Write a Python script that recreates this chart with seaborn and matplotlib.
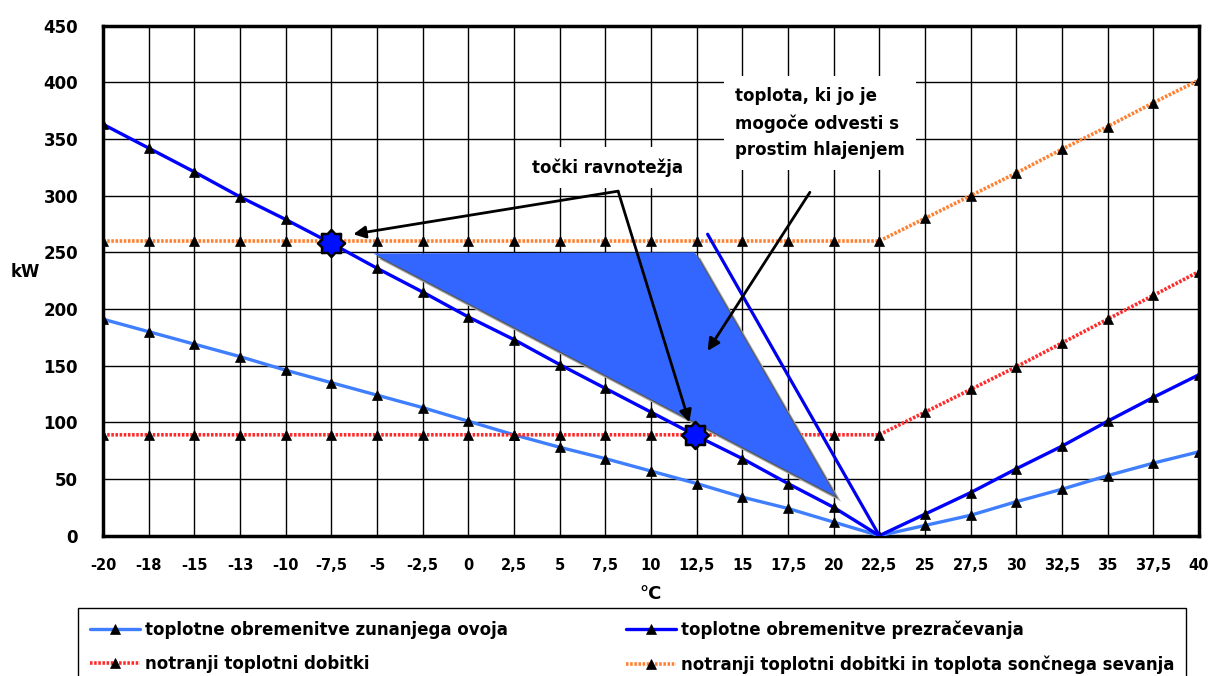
import numpy as np
import matplotlib
matplotlib.use("Agg")
import matplotlib.pyplot as plt
import matplotlib.patheffects as pe
from matplotlib.path import Path
import seaborn as sns

# outdoor temperature (°C) and the labels shown on the axis
temps = [-20, -17.5, -15, -12.5, -10, -7.5, -5, -2.5, 0, 2.5, 5, 7.5, 10,
         12.5, 15, 17.5, 20, 22.5, 25, 27.5, 30, 32.5, 35, 37.5, 40]
temp_labels = ['-20', '-18', '-15', '-13', '-10', '-7,5', '-5', '-2,5', '0',
               '2,5', '5', '7,5', '10', '12,5', '15', '17,5', '20', '22,5',
               '25', '27,5', '30', '32,5', '35', '37,5', '40']

# loads in kW
ovoj = [191, 180, 169, 158, 146, 135, 124, 113, 101, 89, 78, 68, 57, 46,
        34, 24, 12, 0, 9, 18, 30, 41, 53, 64, 74]
prezracevanje = [363, 342, 321, 299, 279, 258, 236, 215, 193, 173, 151, 130,
                 109, 88, 68, 46, 25, 0, 19, 38, 59, 79, 101, 122, 142]
notranji = [89, 89, 89, 89, 89, 89, 89, 89, 89, 89, 89, 89, 89, 89, 89, 89,
            89, 89, 109, 129, 149, 170, 191, 212, 233]
notranji_sonce = [260, 260, 260, 260, 260, 260, 260, 260, 260, 260, 260, 260,
                  260, 260, 260, 260, 260, 260, 280, 300, 320, 341, 361, 382, 402]

series_names = ['toplotne obremenitve zunanjega ovoja',
                'toplotne obremenitve prezračevanja',
                'notranji toplotni dobitki',
                'notranji toplotni dobitki in toplota sončnega sevanja']

# equilibrium points
eq_t = [-7.5, 12.4]
eq_kw = [258, 89]

# free cooling area and its limit line
area_t = [-5.2, 12.4, 20.1]
area_kw = [249, 250, 35]
limit_t = [13.1, 22.5]
limit_kw = [266, 0]

sns.set_style("white")
plt.rcParams['font.family'] = ['DejaVu Sans']
plt.rcParams['text.color'] = 'black'
plt.rcParams['axes.labelcolor'] = 'black'
plt.rcParams['xtick.color'] = 'black'
plt.rcParams['ytick.color'] = 'black'

fig = plt.figure(figsize=(12.09, 6.76), dpi=100)
ax = fig.add_axes([0.0852, 0.2076, 0.9065, 0.7544])

mk = dict(marker='^', markersize=7, markerfacecolor='black',
          markeredgecolor='black', markeredgewidth=0.5)
sns.lineplot(x=temps, y=ovoj, color='#3f7fff', linewidth=2.4, label=series_names[0],
             ax=ax, zorder=3, **mk)
sns.lineplot(x=temps, y=prezracevanje, color='#0000ff', linewidth=2.4, label=series_names[1],
             ax=ax, zorder=3, **mk)
sns.lineplot(x=temps, y=notranji, color='#ff2a2a', linewidth=2.6, linestyle=(0, (0.7, 0.45)),
             label=series_names[2], ax=ax, zorder=3, **mk)
sns.lineplot(x=temps, y=notranji_sonce, color='#ff8030', linewidth=2.6, linestyle=(0, (0.7, 0.45)),
             label=series_names[3], ax=ax, zorder=3, **mk)

# blue area with shadow
ax.fill(area_t, area_kw, facecolor='#3366ff', edgecolor='none', zorder=4,
        path_effects=[pe.SimplePatchShadow(offset=(4, -4), shadow_rgbFace='#aaaaaa', alpha=1),
                      pe.SimplePatchShadow(offset=(2, -2), shadow_rgbFace='#555555', alpha=1),
                      pe.Normal()])
ax.plot(limit_t, limit_kw, color='#0000ee', linewidth=2.3, zorder=4)

# 8-point badge star marker
ang = np.linspace(0, 2 * np.pi, 17)[:-1] + np.pi / 2
rad = np.where(np.arange(16) % 2 == 0, 1.0, 0.75)
verts = np.column_stack([rad * np.cos(ang), rad * np.sin(ang)])
verts = np.vstack([verts, verts[:1]])
badge = Path(verts, closed=True)
sns.scatterplot(x=eq_t, y=eq_kw, marker=badge, s=380, color='#0010ff',
                edgecolor='black', linewidth=1.8, zorder=6, ax=ax)

# annotations
ax.text(7.6, 325, 'točki ravnotežja', ha='center', va='center', fontsize=12,
        fontweight='bold', zorder=7,
        bbox=dict(facecolor='white', edgecolor='none', pad=8))
ax.text(14.6, 364, 'toplota, ki jo je\nmogoče odvesti s\nprostim hlajenjem', ha='left',
        va='center', fontsize=12, fontweight='bold', linespacing=1.6, zorder=7,
        bbox=dict(facecolor='white', edgecolor='none', pad=8))
arrow = dict(arrowstyle='-|>', color='black', lw=2, mutation_scale=18, shrinkA=0, shrinkB=0)
ax.annotate('', xy=(-6.3, 266), xytext=(8.2, 304), arrowprops=arrow, zorder=8)
ax.annotate('', xy=(12.1, 100), xytext=(8.2, 304), arrowprops=arrow, zorder=8)
ax.annotate('', xy=(13.1, 163), xytext=(18.7, 303), arrowprops=arrow, zorder=8)

ax.set_xlim(-20, 40)
ax.set_ylim(0, 450)
ax.set_xticks(temps)
ax.set_xticklabels(temp_labels, fontsize=10.5, fontweight='bold')
ax.set_yticks(np.arange(0, 451, 50))
ax.tick_params(axis='y', labelsize=12, direction='out', length=6, width=1, pad=12)
ax.tick_params(axis='x', direction='out', length=6, width=1, pad=10)
for lab in ax.get_yticklabels():
    lab.set_fontweight('bold')
ax.grid(True, color='black', linewidth=1)
ax.set_axisbelow(True)
for s in ax.spines.values():
    s.set_color('black')
    s.set_linewidth(2.5)
    s.set_visible(True)
ax.set_xlabel('°C', fontsize=13, fontweight='bold', labelpad=9)
ax.set_ylabel('kW', fontsize=12, fontweight='bold', rotation=0)
ax.yaxis.set_label_coords(-0.071, 0.5)

handles, labels = ax.get_legend_handles_labels()
ax.get_legend().remove()
order = [0, 2, 1, 3]
fig.legend([handles[i] for i in order], [labels[i] for i in order], ncol=2,
           loc='upper left', bbox_to_anchor=(0.058, 0.0, 0.93, 0.1124), mode='expand',
           frameon=True, fancybox=False, edgecolor='black', framealpha=1,
           prop=dict(size=12, weight='bold'), handlelength=3.0, handletextpad=0.3,
           borderpad=0.7, labelspacing=1.0)

fig.savefig('out.png', dpi=100)
